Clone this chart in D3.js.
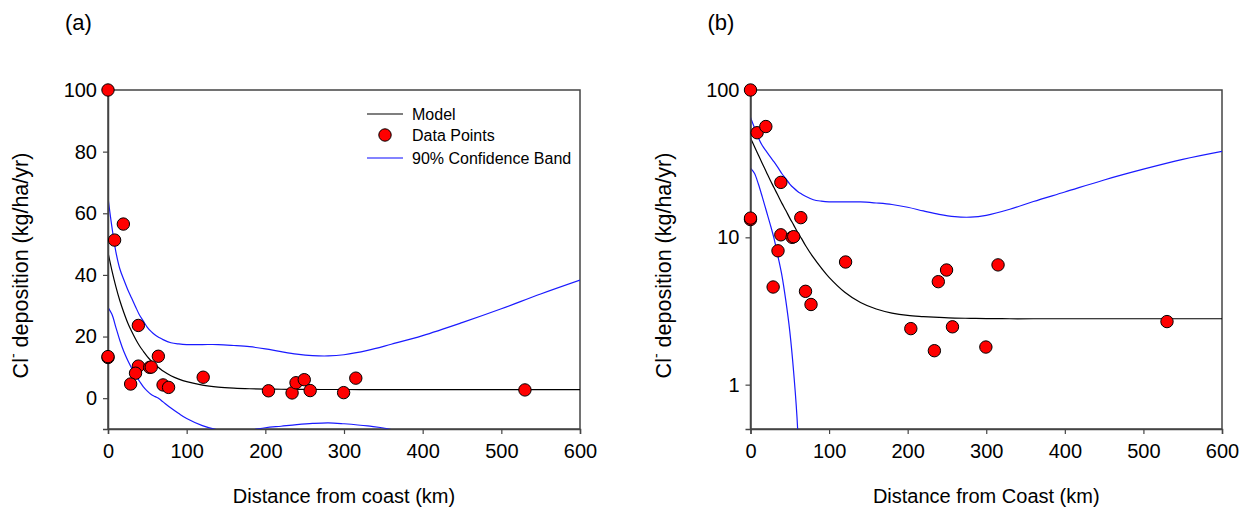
<!DOCTYPE html>
<html>
<head>
<meta charset="utf-8">
<script src="https://cdn.jsdelivr.net/npm/d3@7/dist/d3.min.js"></script>
<style>
  html, body { margin: 0; padding: 0; background: #fff; }
  svg { display: block; font-family: "Liberation Sans", Arial, sans-serif; }
</style>
</head>
<body>
<svg id="chart" width="1248" height="518"></svg>
<script>
// Sampled chloride deposition sites: distance from coast (km) and deposition (kg/ha/yr)
const siteDistance   = [0, 8.4, 19.5, 0, 0, 38.6, 64, 38.6, 53, 55, 35, 28.8, 70, 77, 121, 204, 234, 239, 249.5, 257, 299.5, 315, 530];
const siteDeposition = [100, 51.3, 56.5, 13.2, 13.5, 23.6, 13.6, 10.4, 10.0, 10.1, 8.1, 4.6, 4.3, 3.5, 6.8, 2.4, 1.7, 5.0, 6.0, 2.47, 1.8, 6.5, 2.68];

// Fitted model and its 90% confidence band, sampled along distance
const curveDistance = [0, 5, 10, 15, 20, 25, 30, 35, 40, 45, 50, 55, 60, 65, 70, 80, 90, 100, 120, 140, 160, 180, 200, 220, 240, 260, 280, 300, 330, 360, 400, 450, 500, 550, 600];
const modelValue    = [47.3, 41.4, 36.2, 31.7, 27.9, 24.5, 21.7, 19.2, 17.0, 15.2, 13.5, 12.1, 10.8, 9.8, 8.8, 7.3, 6.2, 5.35, 4.24, 3.61, 3.26, 3.06, 2.95, 2.9, 2.86, 2.83, 2.82, 2.81, 2.8, 2.8, 2.8, 2.8, 2.8, 2.8, 2.8];
const upperBand     = [65, 55.5, 47.5, 42, 38.5, 35.3, 32.5, 29.7, 27, 25, 23, 21.6, 20.5, 19.7, 19, 18, 17.6, 17.4, 17.4, 17.4, 17.1, 16.7, 16.0, 15.1, 14.3, 13.8, 13.7, 14.1, 15.5, 17.5, 20.3, 24.5, 29, 33.8, 38.3];
const lowerBand     = [29.5, 27.2, 23, 18.8, 15.2, 12.3, 9.8, 7.4, 5.5, 3.7, 2.3, 1.2, 0.5, -0.2, -1.2, -3.2, -5.0, -6.6, -8.9, -10.3, -10.7, -10.4, -9.6, -9.1, -8.6, -8.2, -8.0, -8.3, -9.0, -10.2, -14.7, -18.9, -23.4, -28.2, -32.7];

// Axis ticks
const distanceTicks = [0, 100, 200, 300, 400, 500, 600];
const linearTicks   = [0, 20, 40, 60, 80, 100];
const logTicks      = [1, 10, 100];

// Legend entries
const legendLabels = ["Model", "Data Points", "90% Confidence Band"];

const svg = d3.select("#chart");
const FONT = 20;
const axisColor = "#444";

function drawPanel(cfg) {
  const g = svg.append("g");
  const x = d3.scaleLinear().domain([0, 600]).range([cfg.left, cfg.right]);
  const y = cfg.log
    ? d3.scaleLog().domain([0.5, 100]).range([cfg.bottom, cfg.top])
    : d3.scaleLinear().domain([-10, 100]).range([cfg.bottom, cfg.top]);

  const clipId = "clip-" + cfg.id;
  svg.append("clipPath").attr("id", clipId)
    .append("rect")
    .attr("x", cfg.left).attr("y", cfg.top)
    .attr("width", cfg.right - cfg.left).attr("height", cfg.bottom - cfg.top);

  // frame
  g.append("rect")
    .attr("x", cfg.left).attr("y", cfg.top)
    .attr("width", cfg.right - cfg.left).attr("height", cfg.bottom - cfg.top)
    .attr("fill", "none").attr("stroke", axisColor).attr("stroke-width", 1.5);

  const yVal = v => cfg.log ? y(Math.max(v, 0.05)) : y(v);
  const line = d3.line()
    .x(d => x(d[0]))
    .y(d => yVal(d[1]))
    .curve(d3.curveCatmullRom.alpha(0.5));

  const lines = g.append("g").attr("clip-path", `url(#${clipId})`);
  const pairs = arr => curveDistance.map((d, i) => [d, arr[i]]);
  lines.append("path").datum(pairs(upperBand))
    .attr("d", line).attr("fill", "none").attr("stroke", "#1a1aff").attr("stroke-width", 1.2);
  lines.append("path").datum(pairs(lowerBand))
    .attr("d", line).attr("fill", "none").attr("stroke", "#1a1aff").attr("stroke-width", 1.2);
  lines.append("path").datum(pairs(modelValue))
    .attr("d", line).attr("fill", "none").attr("stroke", "#000").attr("stroke-width", 1.2);

  // axes
  const xAxis = d3.axisBottom(x).tickValues(distanceTicks).tickSize(5).tickPadding(10)
    .tickFormat(d3.format("d"));
  const yAxis = d3.axisLeft(y).tickValues(cfg.log ? logTicks : linearTicks).tickSize(5).tickPadding(6)
    .tickFormat(d3.format("d"));

  const gx = g.append("g").attr("transform", `translate(0,${cfg.bottom})`).call(xAxis);
  const gy = g.append("g").attr("transform", `translate(${cfg.left},0)`).call(yAxis);
  [gx, gy].forEach(a => {
    a.select(".domain").attr("stroke", axisColor).attr("stroke-width", 1.5);
    a.selectAll(".tick line").attr("stroke", axisColor).attr("stroke-width", 1.2);
    a.selectAll(".tick text").attr("fill", "#000")
      .style("font-size", FONT + "px").style("font-family", "'Liberation Sans', Arial, sans-serif");
  });

  // data points
  g.append("g").selectAll("circle")
    .data(siteDistance.map((d, i) => [d, siteDeposition[i]]))
    .join("circle")
    .attr("cx", d => x(d[0])).attr("cy", d => y(d[1])).attr("r", 6.2)
    .attr("fill", "#ff0000").attr("stroke", "#000").attr("stroke-width", 1);

  // axis titles
  g.append("text")
    .attr("x", (cfg.left + cfg.right) / 2).attr("y", 503)
    .attr("text-anchor", "middle").style("font-size", FONT + "px")
    .text(cfg.xTitle);

  const yt = g.append("text")
    .attr("transform", `translate(${cfg.left - 80},${(cfg.top + cfg.bottom) / 2 + 6}) rotate(-90)`)
    .attr("text-anchor", "middle").style("font-size", "21.5px");
  yt.append("tspan").text("Cl");
  yt.append("tspan").attr("dy", -10).style("font-size", "14px").text("-");
  yt.append("tspan").attr("dy", 10).text(" deposition (kg/ha/yr)");

  // panel label
  g.append("text").attr("x", cfg.left - 43).attr("y", 30)
    .style("font-size", "22px").text(cfg.label);

  return { x, y, g };
}

const pa = drawPanel({ id: "a", left: 108, right: 580, top: 90, bottom: 429, log: false,
  xTitle: "Distance from coast (km)", label: "(a)" });
drawPanel({ id: "b", left: 750.5, right: 1222, top: 90, bottom: 429, log: true,
  xTitle: "Distance from Coast (km)", label: "(b)" });

// legend in panel (a)
const lg = pa.g.append("g");
const lx = 367, ly = [114, 135, 158];
lg.append("line").attr("x1", lx).attr("x2", lx + 36).attr("y1", ly[0]).attr("y2", ly[0])
  .attr("stroke", "#000").attr("stroke-width", 1.2);
lg.append("circle").attr("cx", lx + 18).attr("cy", ly[1]).attr("r", 6.2)
  .attr("fill", "#ff0000").attr("stroke", "#000").attr("stroke-width", 1);
lg.append("line").attr("x1", lx).attr("x2", lx + 36).attr("y1", ly[2]).attr("y2", ly[2])
  .attr("stroke", "#5a5aff").attr("stroke-width", 1.5);
lg.selectAll("text").data(legendLabels).join("text")
  .attr("x", lx + 45).attr("y", (d, i) => ly[i]).attr("dy", "0.35em")
  .style("font-size", "16px").text(d => d);
</script>
</body>
</html>
